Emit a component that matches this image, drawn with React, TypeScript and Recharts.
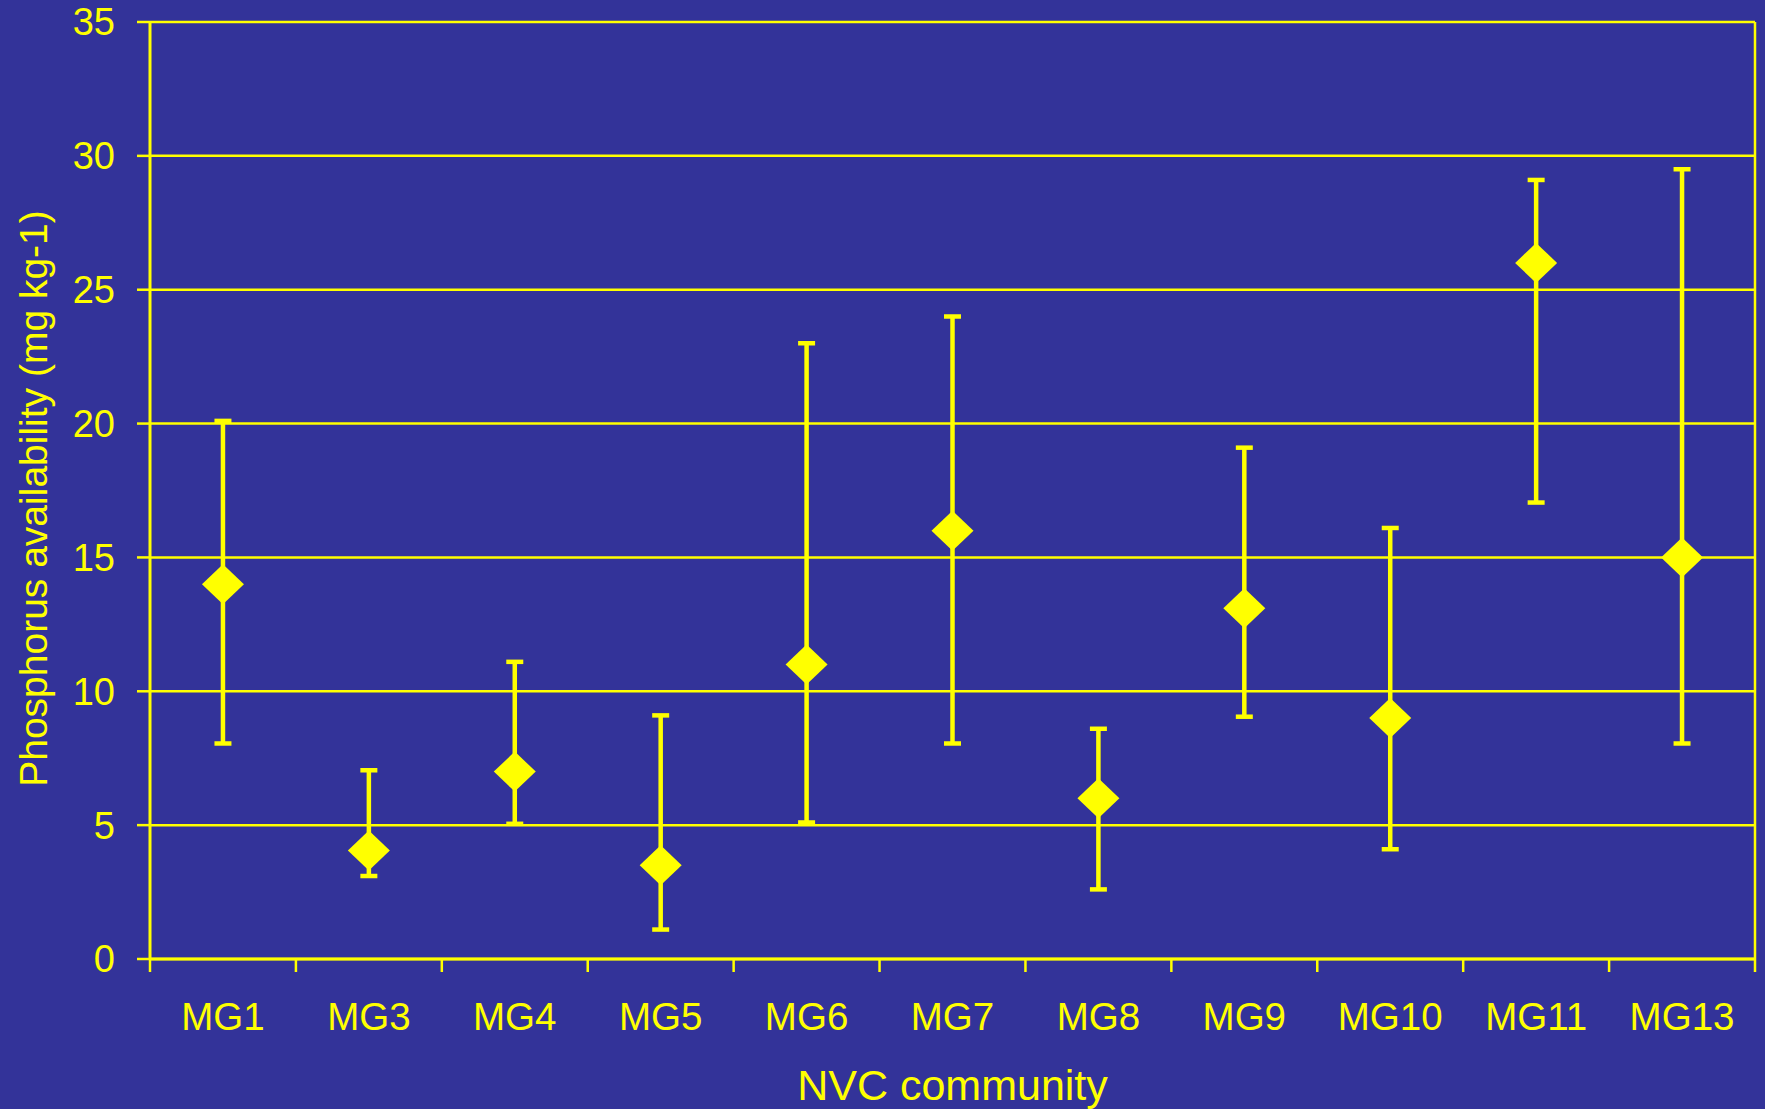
import {
  CartesianGrid, ComposedChart, ErrorBar, Label, Line, XAxis, YAxis,
} from "recharts";

// Phosphorus availability by NVC community — mean with min/max range bars.
const communities = ["MG1", "MG3", "MG4", "MG5", "MG6", "MG7", "MG8", "MG9", "MG10", "MG11", "MG13"];
const meanP = [14, 4.05, 7, 3.5, 11, 16, 6, 13.1, 9, 26, 15];
const upperP = [20.1, 7.05, 11.1, 9.1, 23, 24, 8.6, 19.1, 16.1, 29.1, 29.5];
const lowerP = [8.05, 3.1, 5.05, 1.1, 5.1, 8.05, 2.6, 9.05, 4.1, 17.05, 8.05];
const yTicks = [0, 5, 10, 15, 20, 25, 30, 35];

const W = 1765;
const H = 1109;
const MARGIN = { top: 22, right: 10, left: 0, bottom: 0 };
const Y_AXIS_W = 150;
const X_AXIS_H = 150;
const BAND = (W - MARGIN.left - MARGIN.right - Y_AXIS_W) / communities.length;

const BG = "#333399";
const YEL = "#FFFF00";
const FONT = "'Liberation Sans', Arial, sans-serif";

// ErrorBar wants offsets from the mean: [below, above]
const data = communities.map((name, i) => ({
  name,
  mean: meanP[i],
  err: [meanP[i] - lowerP[i], upperP[i] - meanP[i]],
}));

function Diamond(props: any) {
  const { cx, cy, index } = props;
  if (cx == null || cy == null) return <g key={index} />;
  return (
    <polygon
      key={index}
      points={`${cx},${cy - 20} ${cx + 21},${cy} ${cx},${cy + 20} ${cx - 21},${cy}`}
      fill={YEL}
    />
  );
}

// category labels sit mid-band; Excel-style tick marks sit on band edges
function XTick(props: any) {
  const { x, y, payload, index } = props;
  const last = index === communities.length - 1;
  return (
    <g>
      <line x1={x - BAND / 2} y1={y} x2={x - BAND / 2} y2={y + 13} stroke={YEL} strokeWidth={2.5} />
      {last && (
        <line x1={x + BAND / 2} y1={y} x2={x + BAND / 2} y2={y + 13} stroke={YEL} strokeWidth={2.5} />
      )}
      <text x={x} y={y + 71} textAnchor="middle" fill={YEL} fontSize={38.5} fontFamily={FONT}>
        {payload.value}
      </text>
    </g>
  );
}

export default function App() {
  return (
    <div style={{ position: "fixed", top: 0, left: 0, width: W, height: H, background: BG }}>
      <ComposedChart width={W} height={H} data={data} margin={MARGIN}>
        <CartesianGrid
          stroke={YEL}
          strokeWidth={2.5}
          fill="none"
          verticalCoordinatesGenerator={({ offset }: any) => [offset.left + offset.width]}
        />
        <XAxis
          dataKey="name"
          type="category"
          scale="band"
          height={X_AXIS_H}
          tickLine={false}
          tickSize={0}
          tickMargin={0}
          axisLine={{ stroke: YEL, strokeWidth: 3 }}
          tick={<XTick />}
          interval={0}
        >
          <Label
            content={({ viewBox }: any) => (
              <text
                x={viewBox.x + viewBox.width / 2}
                y={viewBox.y + 141}
                textAnchor="middle"
                fill={YEL}
                fontSize={43}
                fontFamily={FONT}
              >
                NVC community
              </text>
            )}
          />
        </XAxis>
        <YAxis
          type="number"
          domain={[0, 35]}
          ticks={yTicks}
          width={Y_AXIS_W}
          tickSize={13}
          tickMargin={22}
          axisLine={{ stroke: YEL, strokeWidth: 3 }}
          tickLine={{ stroke: YEL, strokeWidth: 2.5 }}
          tick={{ fill: YEL, fontSize: 38, fontFamily: FONT }}
        >
          <Label
            content={({ viewBox }: any) => {
              const cx = 33;
              const cy = viewBox.y + viewBox.height / 2 + 8;
              return (
                <text
                  x={cx}
                  y={cy}
                  transform={`rotate(-90, ${cx}, ${cy})`}
                  textAnchor="middle"
                  dominantBaseline="central"
                  fill={YEL}
                  fontSize={39}
                  fontFamily={FONT}
                >
                  Phosphorus availability (mg kg-1)
                </text>
              );
            }}
          />
        </YAxis>
        <Line
          dataKey="mean"
          stroke="none"
          dot={Diamond}
          activeDot={false}
          isAnimationActive={false}
        >
          <ErrorBar
            dataKey="err"
            direction="y"
            width={8.5}
            stroke={YEL}
            strokeWidth={4.5}
            isAnimationActive={false}
          />
        </Line>
      </ComposedChart>
    </div>
  );
}
